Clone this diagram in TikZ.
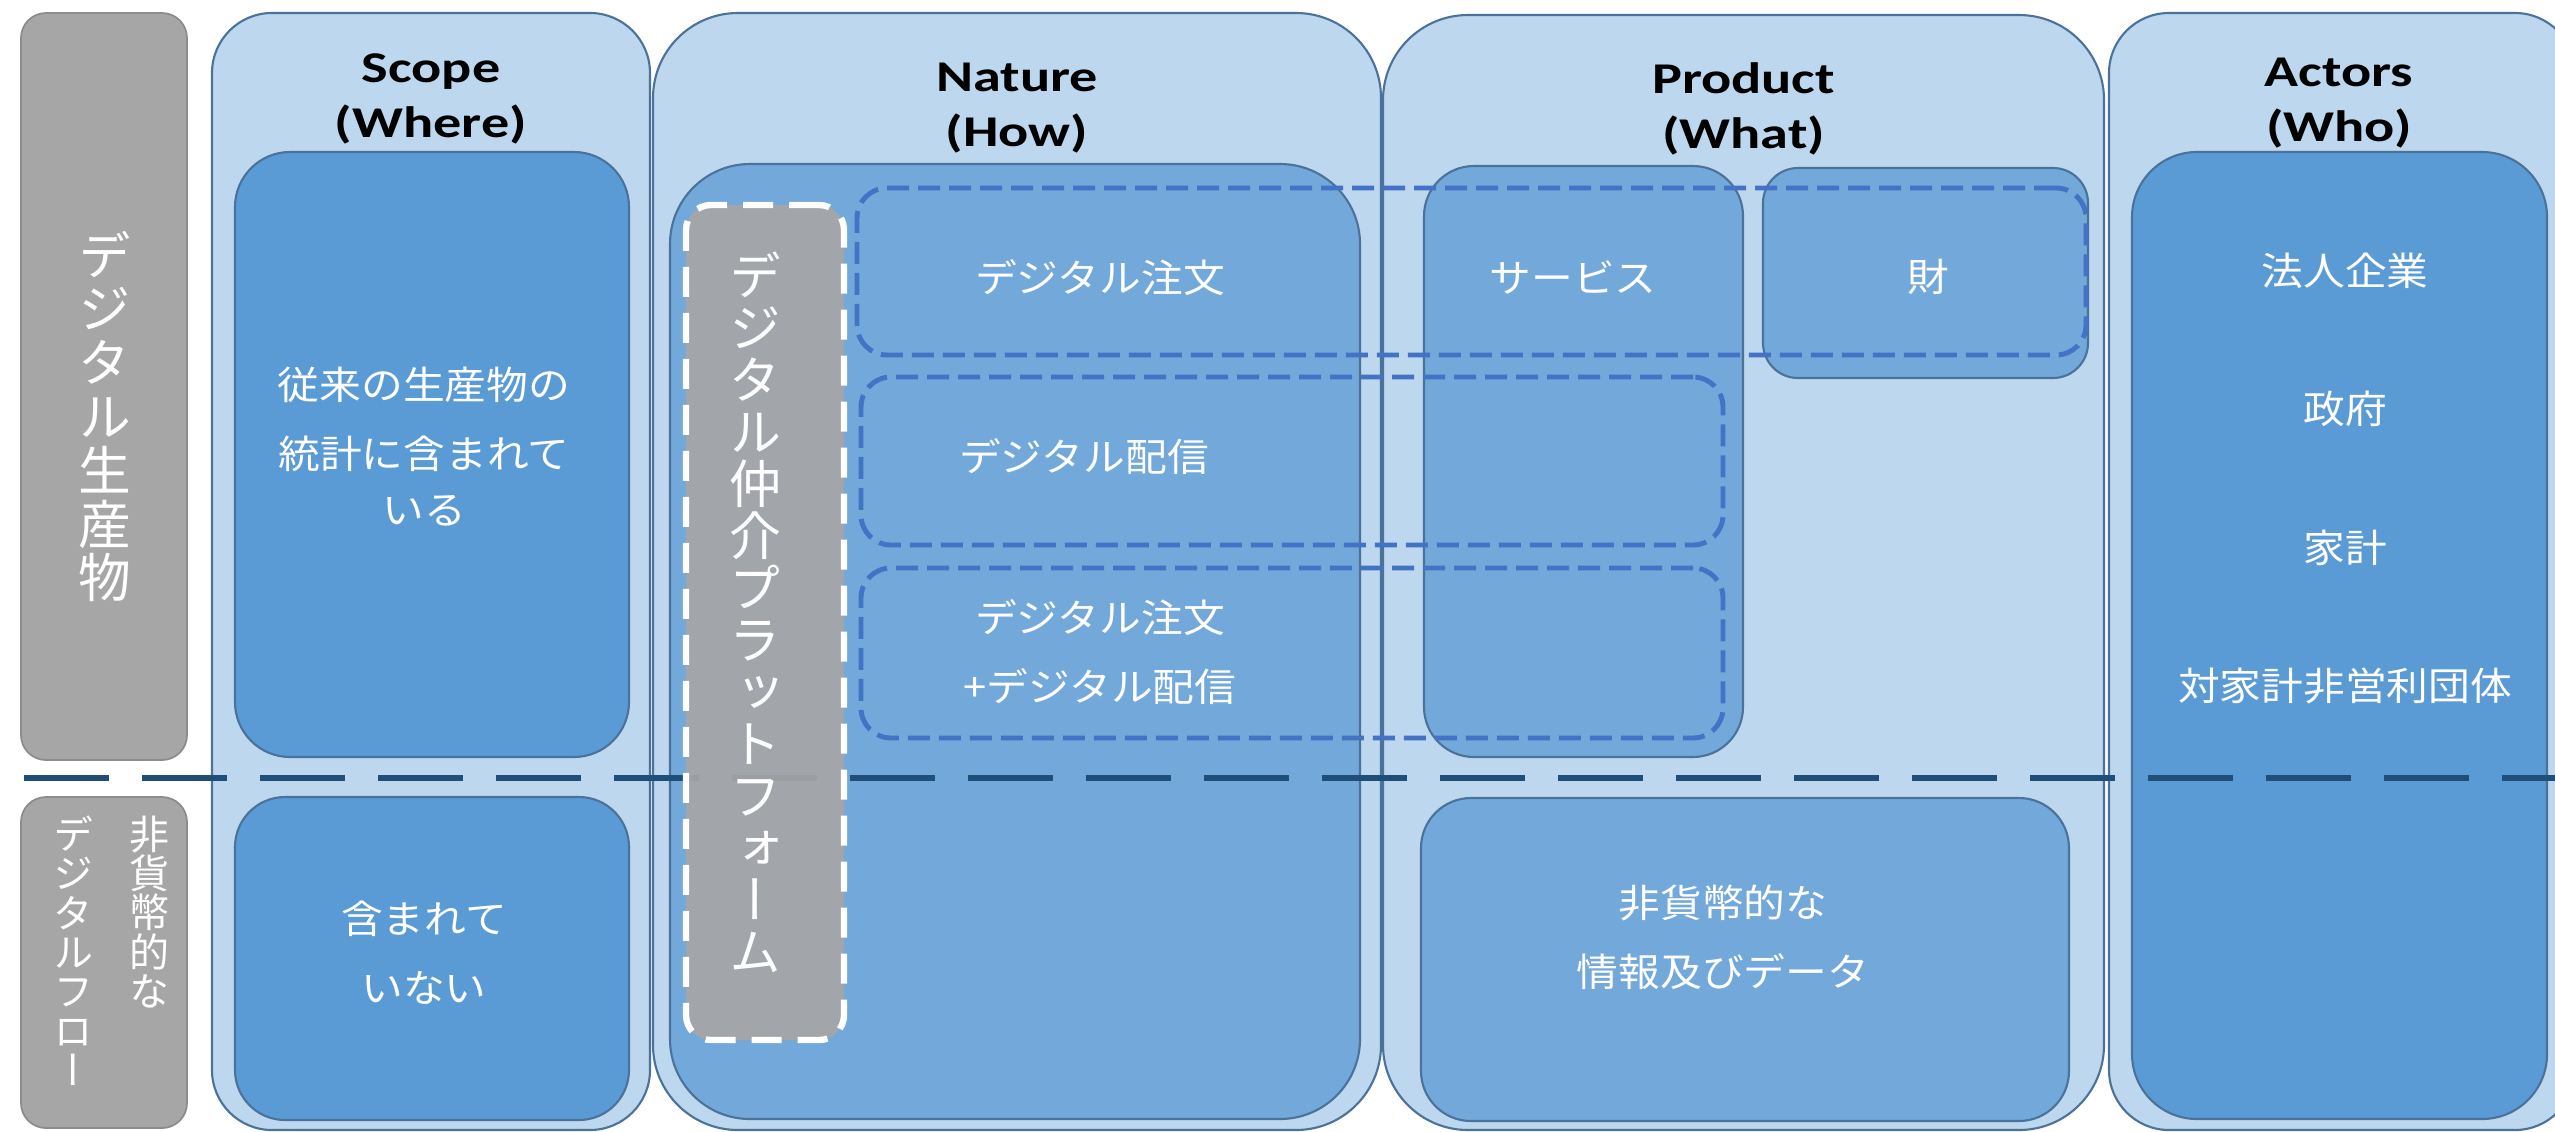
\documentclass[tikz,border=0pt]{standalone}
\usepackage{fontspec}
\setmainfont{Carlito}
\newfontfamily\titlefont[FakeStretch=1.28]{Carlito}
\newfontfamily\jpfont[FakeStretch=1.08]{Noto Sans CJK JP}
\newfontfamily\jpvfont[RawFeature=+vert]{Noto Sans CJK JP}
\usetikzlibrary{calc}
\setlength{\lineskiplimit}{-30pt}
\setlength{\normallineskiplimit}{-30pt}

\definecolor{colfill}{HTML}{BDD7EE}
\definecolor{colline}{HTML}{4A729A}
\definecolor{boxdark}{HTML}{5B9BD5}
\definecolor{boxlight}{HTML}{73A8DA}
\definecolor{graybox}{HTML}{A6A6A6}
\definecolor{grayline}{HTML}{8C8C8C}
\definecolor{navy}{HTML}{1F4E79}
\definecolor{dashblue}{HTML}{4472C4}

\begin{document}
\begin{tikzpicture}[
	column/.style={draw=colline,fill=colfill,line width=0.6pt,inner sep=0pt},
	darkbox/.style={draw=colline,fill=boxdark,line width=0.6pt,inner sep=0pt},
	lightbox/.style={draw=colline,fill=boxlight,line width=0.6pt,inner sep=0pt},
	graytab/.style={draw=grayline,fill=graybox,line width=0.5pt,inner sep=0pt,rounded corners=0.25cm},
	rowbox/.style={draw=dashblue,line width=1.4pt,dash pattern=on 0.22cm off 0.09cm,rounded corners=0.3cm,inner sep=0pt},
	platbox/.style={draw=white,fill=graybox,fill opacity=0.92,line width=1.8pt,dash pattern=on 0.3cm off 0.16cm,rounded corners=0.25cm,inner sep=0pt},
	divider/.style={draw=navy,line width=0.065cm,dash pattern=on 0.85cm off 0.33cm},
	title/.style={font=\titlefont\bfseries\fontsize{12.5}{15.5}\selectfont,align=center,text=black},
	jptext/.style={font=\jpfont\fontsize{11}{19.6}\selectfont,align=center,text=white},
	vtext/.style={font=\jpvfont\fontsize{15}{15.3}\selectfont,align=center,text=white,inner sep=0pt},
	vsmall/.style={vtext,font=\jpvfont\fontsize{11.4}{11.2}\selectfont,anchor=north}
]
	\useasboundingbox (0,0) rectangle (25.55,-11.31);
	\fill [white] (0,0) rectangle (25.55,-11.31);

	\draw (1.04,-3.865) node (digprod) [graytab,minimum width=1.66cm,minimum height=7.47cm] {};
	\node [vtext] at (1.05,-4.165) {デ\\ジ\\タ\\ル\\生\\産\\物};
	\draw (1.04,-9.625) node (nonmon) [graytab,minimum width=1.66cm,minimum height=3.31cm] {};
	\node [vsmall] at (1.50,-8.15) {非\\貨\\幣\\的\\な};
	\node [vsmall] at (0.74,-8.15) {デ\\ジ\\タ\\ル\\フ\\ロ\\ー};

	\draw (4.31,-5.715) node (scope) [column,rounded corners=0.6cm,minimum width=4.38cm,minimum height=11.17cm] {};
	\node [title] at ($(scope.north)+(0,-0.87)$) {Scope\\(Where)};
	\draw (4.32,-4.545) node (scopein) [darkbox,rounded corners=0.55cm,minimum width=3.94cm,minimum height=6.05cm] {};
	\node [jptext] at (4.24,-4.465) {従来の生産物の\\統計に含まれて\\[-0.13cm]いる};
	\draw (4.32,-9.585) node (scopeout) [darkbox,rounded corners=0.5cm,minimum width=3.94cm,minimum height=3.23cm] {};
	\node [jptext] at (4.24,-9.525) {含まれて\\いない};

	\draw (10.17,-5.715) node (nature) [column,rounded corners=0.85cm,minimum width=7.28cm,minimum height=11.17cm] {};
	\node [title] at ($(nature.north)+(0,-0.96)$) {Nature\\(How)};
	\draw (10.15,-6.415) node (naturein) [lightbox,rounded corners=0.8cm,minimum width=6.90cm,minimum height=9.55cm] {};

	\draw (17.435,-5.725) node (product) [column,rounded corners=0.85cm,minimum width=7.21cm,minimum height=11.15cm] {};
	\node [title] at ($(product.north)+(0,-0.95)$) {Product\\(What)};
	\draw (15.835,-4.615) node (service) [lightbox,rounded corners=0.5cm,minimum width=3.19cm,minimum height=5.91cm] {};
	\node [jptext] at (15.73,-2.77) {サービス};
	\draw (19.255,-2.73) node (goods) [lightbox,rounded corners=0.35cm,minimum width=3.25cm,minimum height=2.10cm] {};
	\node [jptext] at (19.28,-2.77) {財};
	\draw (17.45,-9.595) node (info) [lightbox,rounded corners=0.5cm,minimum width=6.48cm,minimum height=3.23cm] {};
	\node [jptext] at (17.23,-9.375) {非貨幣的な\\情報及びデータ};

	\draw (23.42,-5.715) node (actors) [column,rounded corners=0.6cm,minimum width=4.66cm,minimum height=11.17cm] {};
	\node [title] at ($(actors.north)+(-0.03,-0.91)$) {Actors\\(Who)};
	\draw (23.395,-6.355) node (actorsin) [darkbox,rounded corners=0.65cm,minimum width=4.15cm,minimum height=9.67cm] {};
	\node [jptext,font=\jpfont\fontsize{11}{39.4}\selectfont] at (23.45,-4.785) {法人企業\\政府\\家計\\対家計非営利団体};

	\draw (14.715,-2.715) node (order) [rowbox,minimum width=12.29cm,minimum height=1.67cm] {};
	\node [jptext] at (11.0,-2.78) {デジタル注文};
	\draw (12.92,-4.61) node (delivery) [rowbox,minimum width=8.62cm,minimum height=1.68cm] {};
	\node [jptext] at (10.84,-4.57) {デジタル配信};
	\draw (12.92,-6.53) node (both) [rowbox,minimum width=8.62cm,minimum height=1.70cm] {};
	\node [jptext] at (11.0,-6.52) {デジタル注文\\+デジタル配信};

	\coordinate (divl) at (0.24,-7.78);
	\coordinate (divr) at (25.55,-7.78);
	\draw [divider] (divl) -- (divr);

	\draw (7.65,-6.225) node (platform) [platbox,minimum width=1.58cm,minimum height=8.35cm] {};
	\node [vtext,font=\jpvfont\fontsize{14.8}{14.8}\selectfont] at (7.55,-6.125) {デ\\ジ\\タ\\ル\\仲\\介\\プ\\ラ\\ッ\\ト\\フ\\ォ\\ー\\ム};
\end{tikzpicture}
\end{document}
